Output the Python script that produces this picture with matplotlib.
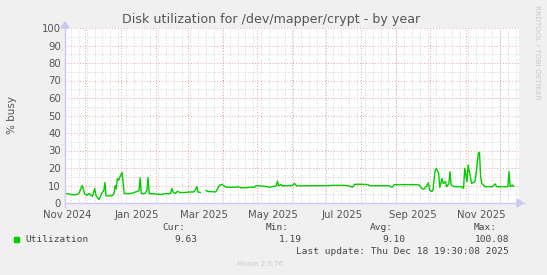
import matplotlib
matplotlib.use("Agg")
import matplotlib.pyplot as plt
import numpy as np
import pandas as pd

# Valeurs (moyennes journalieres, % busy)
dates = [
    "2024-11-13", "2024-11-15", "2024-11-20", "2024-11-23", "2024-11-26", "2024-11-29",
    "2024-12-01", "2024-12-03", "2024-12-05", "2024-12-08", "2024-12-10", "2024-12-11",
    "2024-12-13", "2024-12-14", "2024-12-16", "2024-12-17", "2024-12-18", "2024-12-19",
    "2024-12-20", "2024-12-22", "2024-12-24", "2024-12-25", "2024-12-27", "2024-12-28",
    "2024-12-29", "2024-12-30", "2024-12-31", "2025-01-02", "2025-01-03", "2025-01-04",
    "2025-01-05", "2025-01-09", "2025-01-12", "2025-01-15", "2025-01-18", "2025-01-19",
    "2025-01-20", "2025-01-23", "2025-01-25", "2025-01-26", "2025-01-27", "2025-02-01",
    "2025-02-04", "2025-02-07", "2025-02-10", "2025-02-13", "2025-02-15", "2025-02-16",
    "2025-02-17", "2025-02-19", "2025-02-21", "2025-02-23", "2025-02-27", "2025-03-04",
    "2025-03-07", "2025-03-08", "2025-03-10", "2025-03-11", "2025-03-13", "2025-03-15",
    "2025-03-18", "2025-03-20", "2025-03-23", "2025-03-26", "2025-03-27", "2025-03-28",
    "2025-03-30", "2025-04-01", "2025-04-03", "2025-04-05", "2025-04-09", "2025-04-14",
    "2025-04-15", "2025-04-18", "2025-04-22", "2025-04-25", "2025-04-30", "2025-05-01",
    "2025-05-05", "2025-05-10", "2025-05-13", "2025-05-16", "2025-05-19", "2025-05-20",
    "2025-05-21", "2025-05-23", "2025-05-24", "2025-06-02", "2025-06-04", "2025-06-06",
    "2025-06-10", "2025-06-16", "2025-06-25", "2025-07-04", "2025-07-07", "2025-07-13",
    "2025-07-18", "2025-07-21", "2025-07-25", "2025-07-27", "2025-08-02", "2025-08-08",
    "2025-08-09", "2025-08-17", "2025-08-26", "2025-08-29", "2025-08-31", "2025-09-09",
    "2025-09-18", "2025-09-22", "2025-09-24", "2025-09-26", "2025-09-28", "2025-09-30",
    "2025-10-01", "2025-10-03", "2025-10-04", "2025-10-06", "2025-10-07", "2025-10-09",
    "2025-10-10", "2025-10-12", "2025-10-13", "2025-10-15", "2025-10-16", "2025-10-18",
    "2025-10-19", "2025-10-20", "2025-10-23", "2025-10-29", "2025-10-31", "2025-11-01",
    "2025-11-03", "2025-11-04", "2025-11-06", "2025-11-07", "2025-11-10", "2025-11-11",
    "2025-11-13", "2025-11-14", "2025-11-15", "2025-11-16", "2025-11-19", "2025-11-25",
    "2025-11-28", "2025-11-29", "2025-12-09", "2025-12-10", "2025-12-11", "2025-12-13",
    "2025-12-14",
]
utilization = [
    5.8, 5.4, 4.8, 4.6, 5.4, 10.0,
    5.4, 4.4, 5.4, 3.8, 8.3, 4.5,
    2.5, 2.0, 5.4, 6.3, 7.0, 11.7,
    4.0, 4.0, 4.4, 4.0, 5.4, 10.0,
    8.0, 14.0, 13.0, 16.0, 17.5, 12.0,
    5.4, 5.4, 5.6, 6.3, 7.0, 14.4,
    5.4, 5.4, 7.0, 14.6, 5.4, 5.2,
    5.0, 4.8, 5.4, 5.2, 5.6, 8.3,
    6.3, 5.4, 6.7, 6.0, 6.0, 6.3,
    6.3, 6.7, 9.4, 6.3, 6.0, None,
    7.1, 6.5, 6.5, 6.3, 6.7, 7.9,
    10.2, 10.6, 9.8, 9.0, 9.0, 9.0,
    9.4, 8.7, 8.7, 9.0, 9.0, 9.8,
    9.8, 9.4, 9.0, 9.4, 9.8, 12.5,
    9.8, 10.6, 9.8, 10.0, 11.2, 9.8,
    9.8, 9.9, 9.9, 9.9, 10.1, 10.1,
    10.1, 9.9, 9.0, 10.7, 10.7, 10.5,
    9.9, 9.9, 9.9, 9.0, 10.5, 10.5,
    10.5, 10.3, 8.4, 7.8, 9.3, 11.6,
    7.4, 6.5, 7.4, 18.9, 19.8, 17.0,
    8.8, 14.0, 11.2, 12.2, 9.3, 11.0,
    17.9, 10.3, 9.3, 9.3, 8.4, 19.8,
    12.2, 21.7, 15.0, 11.2, 12.2, 17.0,
    28.4, 29.0, 15.0, 11.2, 9.3, 9.3,
    10.9, 9.3, 9.3, 17.9, 9.3, 10.3,
    9.6,
]
tick_labels = ["Nov 2024", "Jan 2025", "Mar 2025", "May 2025", "Jul 2025", "Sep 2025", "Nov 2025"]
tick_dates = ["2024-11-16", "2025-01-16", "2025-03-16", "2025-05-16", "2025-07-16", "2025-09-16", "2025-11-16"]

legend_stats = {"Cur:": "9.63", "Min:": "1.19", "Avg:": "9.10", "Max:": "100.08"}

W, H = 547, 275
x = pd.to_datetime(dates)
y = np.array([np.nan if v is None else v for v in utilization], dtype=float)
t0 = pd.Timestamp("2024-11-13 19:30")
t1 = pd.Timestamp("2025-12-18 19:30")

fig = plt.figure(figsize=(W / 100, H / 100), dpi=100, facecolor="#f0f0f0")
ax = fig.add_axes([65 / W, 1 - 203 / H, (519 - 65) / W, (203 - 28) / H])
ax.set_facecolor("white")

# grille : semaines (gris) puis mois (rouge)
for d in pd.date_range(t0, t1, freq="W-MON"):
    ax.axvline(d, color="#c8c8c8", lw=0.6, ls=(0, (1, 2)), zorder=1)
for v in range(5, 100, 10):
    ax.axhline(v, color="#c8c8c8", lw=0.6, ls=(0, (1, 2)), zorder=1)
for d in pd.date_range(t0, t1, freq="MS"):
    ax.axvline(d, color="#f0a0a0", lw=0.7, ls=(0, (1, 2)), zorder=2)
for v in range(10, 101, 10):
    ax.axhline(v, color="#f0a0a0", lw=0.7, ls=(0, (1, 2)), zorder=2)

ax.plot(x, y, color="#00cc00", lw=1.0, zorder=3)

ax.set_xlim(t0, t1)
ax.set_ylim(0, 100)
ax.set_yticks(range(0, 101, 10))
ax.set_xticks(pd.to_datetime(tick_dates))
ax.set_xticklabels(tick_labels)
ax.tick_params(axis="both", length=0, labelsize=7.3, colors="#555555")
ax.tick_params(axis="x", pad=5)
ax.tick_params(axis="y", pad=3)
for s in ax.spines.values():
    s.set_visible(False)

# axes avec fleches
ax.plot([0, 1.01], [0, 0], transform=ax.transAxes, color="#c8c8f0", lw=1, clip_on=False, zorder=4)
ax.plot([0, 0], [-0.02, 1.01], transform=ax.transAxes, color="#c8c8f0", lw=1, clip_on=False, zorder=4)
fig.patches.append(plt.Polygon([[517 / W, 1 - 199 / H], [517 / W, 1 - 207 / H], [523 / W, 1 - 203 / H]],
                               closed=True, transform=fig.transFigure, color="#c8c8f0"))
fig.patches.append(plt.Polygon([[61 / W, 1 - 28 / H], [69 / W, 1 - 28 / H], [65 / W, 1 - 22 / H]],
                               closed=True, transform=fig.transFigure, color="#c8c8f0"))

fig.text(271 / W, 1 - 19 / H, "Disk utilization for /dev/mapper/crypt - by year",
         ha="center", va="center", fontsize=9.1, color="#555555")
fig.text(12 / W, 1 - 115 / H, "% busy", rotation=90, ha="center", va="center",
         fontsize=7.5, color="#555555")
fig.text(537 / W, 1 - 5 / H, "RRDTOOL / TOBI OETIKER", rotation=270, ha="center", va="top",
         fontsize=5.3, color="#c8c8c8")

mono = "DejaVu Sans Mono"
fig.patches.append(plt.Rectangle((14 / W, 1 - 242 / H), 5 / W, 5 / H, transform=fig.transFigure,
                                 color="#00cc00"))
fig.text(25 / W, 1 - 239.5 / H, "Utilization", family=mono, fontsize=6.8, color="#444444", va="center")
cols = [(185, 197), (289, 302), (393, 405), (497, 509)]
for (lab, val), (xl, xv) in zip(legend_stats.items(), cols):
    fig.text(xl / W, 1 - 228 / H, lab, family=mono, fontsize=6.8, color="#444444", ha="right", va="center")
    fig.text(xv / W, 1 - 239.5 / H, val, family=mono, fontsize=6.8, color="#444444", ha="right", va="center")
fig.text(509 / W, 1 - 251 / H, "Last update: Thu Dec 18 19:30:08 2025", family=mono,
         fontsize=6.8, color="#444444", ha="right", va="center")
fig.text(260 / W, 1 - 264 / H, "Munin 2.0.76", fontsize=5, color="#c8c8c8", ha="center", va="center")

fig.savefig("out.png", dpi=100, facecolor=fig.get_facecolor())
